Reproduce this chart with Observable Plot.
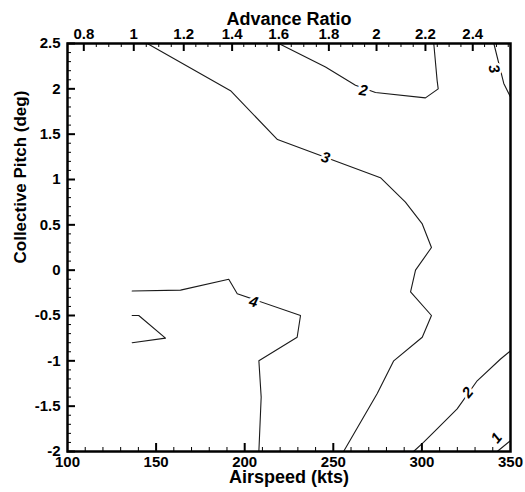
<!DOCTYPE html>
<html><head><meta charset="utf-8">
<script src="https://cdn.jsdelivr.net/npm/d3@7"></script>
<script src="https://cdn.jsdelivr.net/npm/@observablehq/plot@0.6"></script>
<style>
body{margin:0;background:#fff}
svg text{font-family:"Liberation Sans",Arial,sans-serif}
</style>
</head><body><div id="chart"></div>
<script>
// Axis ticks
const airspeedTicks = [100,150,200,250,300,350];
const pitchTicks = [2.5,2,1.5,1,0.5,0,-0.5,-1,-1.5,-2];
const advanceRatioLabels = [0.8,1,1.2,1.4,1.6,1.8,2,2.2,2.4];
const advanceRatioAirspeed = [109.2,137.4,165.6,192.9,219.2,247.5,274.4,302.0,328.7];

// Contour lines: [airspeed (kts), collective pitch (deg)]
const level3Main = [[145.0,2.50],[192.0,1.98],[218.5,1.44],[276.6,1.02],[290.7,0.75],[300.2,0.51],[305.4,0.25],[296.4,0.00],[293.6,-0.24],[305.4,-0.50],[300.2,-0.74],[284.1,-1.00],[274.8,-1.36],[255.8,-2.00]];
const level4Main = [[136.5,-0.23],[163.8,-0.22],[191.0,-0.10],[195.8,-0.26],[231.5,-0.50],[229.6,-0.74],[208.0,-1.00],[209.3,-1.40],[208.0,-2.00]];
const level4Wedge = [[136.5,-0.50],[140.2,-0.50],[155.3,-0.75],[136.5,-0.80]];
const level2Top = [[219.2,2.50],[245.6,2.24],[262.5,2.04],[273.8,1.96],[302.0,1.90],[309.2,2.00],[308.6,2.09],[306.7,2.50]];
const level3TopRight = [[340.6,2.50],[346.2,2.06],[350,1.91]];
const level2Bottom = [[295.3,-2.00],[300.9,-1.90],[308.6,-1.75],[319.9,-1.53],[331.2,-1.22],[344.4,-0.98],[350,-0.89]];
const level1 = [[342.5,-2.00],[350,-1.88]];

// Contour labels
const labelText = ["2","3","4","3","2","1"];
const labelAirspeed = [267.0,245.6,205.0,340.7,325.9,342.1];
const labelPitch = [1.98,1.24,-0.35,2.22,-1.35,-1.85];
const labelAngle = [8,15,15,76,-50,-50];

const contours = [
  ["level3Main", level3Main],["level4Main", level4Main],["level4Wedge", level4Wedge],
  ["level2Top", level2Top],["level3TopRight", level3TopRight],["level2Bottom", level2Bottom],["level1", level1]
].flatMap(([id, pts]) => pts.map(([v, p]) => ({id, v, p})));
const labels = labelText.map((t, i) => ({t, v: labelAirspeed[i], p: labelPitch[i], r: labelAngle[i]}));

const arMap = new Map(advanceRatioAirspeed.map((v, i) => [v, String(advanceRatioLabels[i])]));
const muToV = d3.scaleLinear(advanceRatioLabels, advanceRatioAirspeed);
const topMinor = d3.range(85, 256, 5).filter(k => k % 20 !== 0).map(k => muToV(k / 100));
const bottomMinor = d3.range(110, 350, 10).filter(k => k % 50 !== 0);
const bottomMajor = airspeedTicks.slice(1, -1);
const leftMinor = d3.range(-19, 25, 1).filter(k => k % 5 !== 0).map(k => k / 10);

const W = 525, H = 492, ML = 67, MR = 15, MT = 43, MB = 41;
const frameW = W - ML - MR, frameH = H - MT - MB;
const font = {fontSize: 15, fontWeight: "bold"};
const tickColor = "black";

const chart = Plot.plot({
  width: W, height: H,
  marginLeft: ML, marginRight: MR, marginTop: MT, marginBottom: MB,
  x: {domain: [100, 350], label: null},
  y: {domain: [-2, 2.5], label: null},
  style: {background: "white", color: "black", fontFamily: "Liberation Sans, Arial, sans-serif"},
  marks: [
    Plot.line(contours, {x: "v", y: "p", z: "id", stroke: "#1a1a1a", strokeWidth: 1.1}),
    Plot.text(labels, {x: "v", y: "p", text: "t", rotate: "r", fontSize: 15, fontWeight: "bold", fontStyle: "italic",
      fill: "black", stroke: "white", strokeWidth: 5}),
    Plot.frame({stroke: "black", strokeWidth: 2.5}),
    // inward tick marks
    Plot.ruleX(bottomMajor, {x: d => d, insetTop: frameH - 8, stroke: tickColor, strokeWidth: 2}),
    Plot.ruleX(bottomMinor, {x: d => d, insetTop: frameH - 4, stroke: tickColor, strokeWidth: 1}),
    Plot.ruleX(advanceRatioAirspeed, {x: d => d, insetBottom: frameH - 8, stroke: tickColor, strokeWidth: 2}),
    Plot.ruleX(topMinor, {x: d => d, insetBottom: frameH - 4, stroke: tickColor, strokeWidth: 1}),
    Plot.ruleY(pitchTicks, {y: d => d, insetRight: frameW - 8, stroke: tickColor, strokeWidth: 2}),
    Plot.ruleY(leftMinor, {y: d => d, insetRight: frameW - 4, stroke: tickColor, strokeWidth: 1}),
    // axis labels
    Plot.axisX({anchor: "bottom", ticks: airspeedTicks, tickSize: 0, tickPadding: 5, tickFormat: d => String(d), label: null, ...font}),
    Plot.axisX({anchor: "top", ticks: advanceRatioAirspeed, tickSize: 0, tickPadding: 5, tickFormat: d => arMap.get(d), label: null, ...font}),
    Plot.axisY({anchor: "left", ticks: pitchTicks, tickSize: 0, tickPadding: 7, tickFormat: d => String(d), label: null, ...font}),
    // titles
    Plot.text(["Advance Ratio"], {text: d => d, frameAnchor: "top", dy: -31.5, fontSize: 18, fontWeight: "bold"}),
    Plot.text(["Airspeed (kts)"], {text: d => d, frameAnchor: "bottom", dy: 31, fontSize: 18, fontWeight: "bold"}),
    Plot.text(["Collective Pitch (deg)"], {text: d => d, frameAnchor: "left", rotate: -90, dx: -47, dy: 16, fontSize: 17, fontWeight: "bold"})
  ]
});
document.getElementById("chart").appendChild(chart);
</script>
</body></html>
